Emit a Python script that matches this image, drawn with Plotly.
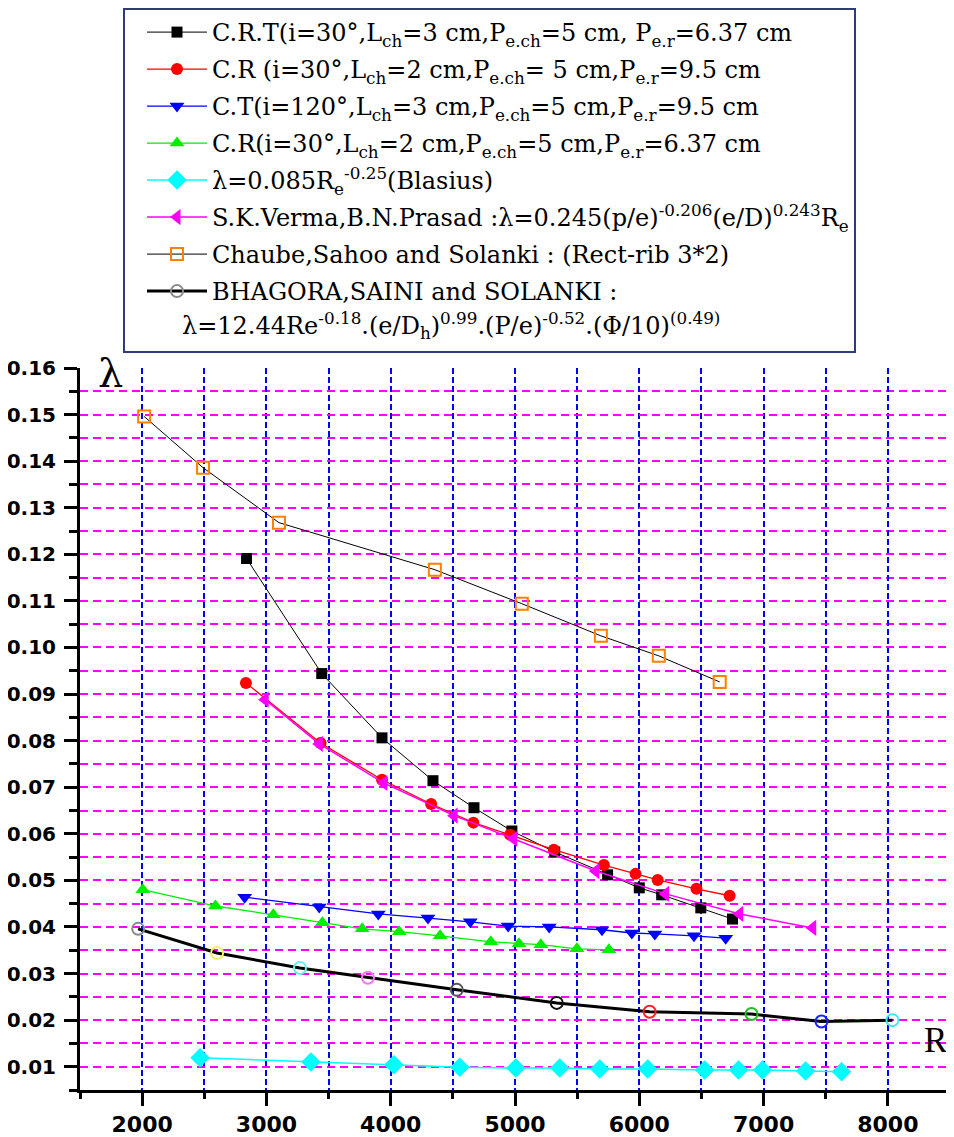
import plotly.graph_objects as go

# ---- data ----
crt_re = [2840, 3445, 3930, 4340, 4670, 4975, 5320, 5745, 6000, 6180, 6495, 6750]
crt_f = [0.1191, 0.0944, 0.0806, 0.0714, 0.0656, 0.0606, 0.0561, 0.0512, 0.0484, 0.0469, 0.0441, 0.0417]

cr_re = [2835, 3435, 3930, 4325, 4665, 4960, 5312, 5715, 5970, 6148, 6460, 6727]
cr_f = [0.0924, 0.0795, 0.0716, 0.0664, 0.0624, 0.0598, 0.0566, 0.0533, 0.0514, 0.0501, 0.0482, 0.0467]

ct_re = [2825, 3425, 3900, 4300, 4640, 4945, 5275, 5700, 5940, 6125, 6440, 6695]
ct_f = [0.0464, 0.0443, 0.0428, 0.0419, 0.0411, 0.0402, 0.0400, 0.0394, 0.0387, 0.0385, 0.0381, 0.0376]

crg_re = [2005, 2590, 3055, 3450, 3770, 4068, 4397, 4805, 5032, 5208, 5498, 5755]
crg_f = [0.0480, 0.0445, 0.0426, 0.0409, 0.0396, 0.0390, 0.0381, 0.0368, 0.0364, 0.0362, 0.0353, 0.0351]

bla_re = [2466, 3358, 4026, 4556, 5006, 5360, 5682, 6068, 6526, 6799, 6992, 7338, 7627]
bla_f = [0.0119, 0.0110, 0.0104, 0.0099, 0.0097, 0.0097, 0.0095, 0.0095, 0.0093, 0.0093, 0.0093, 0.0091, 0.0089]

ver_re = [2990, 3425, 3945, 4510, 4990, 5650, 6212, 6808, 7395]
ver_f = [0.0888, 0.0793, 0.0709, 0.0639, 0.0589, 0.0520, 0.0471, 0.0428, 0.0398]

cha_re = [2016, 2490, 3101, 4355, 5055, 5691, 6157, 6647]
cha_f = [0.1496, 0.1386, 0.1268, 0.1167, 0.1094, 0.1025, 0.0982, 0.0926]

bha_re = [1968, 2603, 3270, 3817, 4532, 5336, 6083, 6903, 7466, 8037]
bha_f = [0.0396, 0.0344, 0.0312, 0.0291, 0.0265, 0.0237, 0.0218, 0.0213, 0.0197, 0.0200]
bha_colors = ['#8a8a8a', '#f2f25a', '#66f0f0', '#f27af2', '#555555',
              '#111111', '#ff2020', '#20c020', '#2020ff', '#40e8f0']

names = [
    "C.R.T(i=30°,L<sub>ch</sub>=3 cm,P<sub>e.ch</sub>=5 cm, P<sub>e.r</sub>=6.37 cm",
    "C.R (i=30°,L<sub>ch</sub>=2 cm,P<sub>e.ch</sub>= 5 cm,P<sub>e.r</sub>=9.5 cm",
    "C.T(i=120°,L<sub>ch</sub>=3 cm,P<sub>e.ch</sub>=5 cm,P<sub>e.r</sub>=9.5 cm",
    "C.R(i=30°,L<sub>ch</sub>=2 cm,P<sub>e.ch</sub>=5 cm,P<sub>e.r</sub>=6.37 cm",
    "λ=0.085R<sub>e</sub><sup>-0.25</sup>(Blasius)",
    "S.K.Verma,B.N.Prasad :λ=0.245(p/e)<sup>-0.206</sup>(e/D)<sup>0.243</sup>R<sub>e</sub>",
    "Chaube,Sahoo and Solanki : (Rect-rib 3*2)",
    "BHAGORA,SAINI and SOLANKI :",
]
formula_line = ("λ=12.44Re<sup>-0.18</sup>.(e/D<sub>h</sub>)<sup>0.99</sup>.(P/e)<sup>-0.52</sup>"
                ".(Φ/10)<sup>(0.49)</sup>")

x_ticks = [2000, 3000, 4000, 5000, 6000, 7000, 8000]
y_ticks = [0.01, 0.02, 0.03, 0.04, 0.05, 0.06, 0.07, 0.08, 0.09, 0.10, 0.11, 0.12, 0.13, 0.14, 0.15, 0.16]
y_ticktext = ["%.2f" % v for v in y_ticks]

fig = go.Figure()

fig.add_trace(go.Scatter(x=crt_re, y=crt_f, name=names[0], mode='lines+markers', legendgroup='g1',
                         line=dict(color='black', width=1),
                         marker=dict(symbol='square', size=11, color='black')))
fig.add_trace(go.Scatter(x=cr_re, y=cr_f, name=names[1], mode='lines+markers', legendgroup='g2',
                         line=dict(color='#ff0000', width=1.3),
                         marker=dict(symbol='circle', size=12, color='#ff0000')))
fig.add_trace(go.Scatter(x=ct_re, y=ct_f, name=names[2], mode='lines+markers', legendgroup='g3',
                         line=dict(color='#0000ff', width=1.3),
                         marker=dict(symbol='triangle-down', size=13, color='#0000ff')))
fig.add_trace(go.Scatter(x=crg_re, y=crg_f, name=names[3], mode='lines+markers', legendgroup='g4',
                         line=dict(color='#00ee00', width=1.3),
                         marker=dict(symbol='triangle-up', size=13, color='#00ee00')))
fig.add_trace(go.Scatter(x=bla_re, y=bla_f, name=names[4], mode='lines+markers', legendgroup='g5',
                         line=dict(color='#00ffff', width=1.5),
                         marker=dict(symbol='diamond', size=15, color='#00ffff')))
fig.add_trace(go.Scatter(x=ver_re, y=ver_f, name=names[5], mode='lines+markers', legendgroup='g6',
                         line=dict(color='#ff00ff', width=1.5),
                         marker=dict(symbol='triangle-left', size=14, color='#ff00ff')))
fig.add_trace(go.Scatter(x=cha_re, y=cha_f, name=names[6], mode='lines+markers', legendgroup='g7',
                         line=dict(color='black', width=1),
                         marker=dict(symbol='square-open', size=12, color='#ff8000',
                                     line=dict(width=2, color='#ff8000'))))
fig.add_trace(go.Scatter(x=bha_re, y=bha_f, name=names[7], mode='lines+markers', legendgroup='g8',
                         line=dict(color='black', width=3),
                         marker=dict(symbol='circle-open', size=12, color=bha_colors,
                                     line=dict(width=2, color=bha_colors))))
# blank legend row reserving room for the second line of the last entry
fig.add_trace(go.Scatter(x=[None], y=[None], name='&nbsp;', mode='lines', legendgroup='g9',
                         line=dict(color='rgba(0,0,0,0)', width=0), hoverinfo='skip'))

grid_x = dict(showgrid=True, gridcolor='#0000ff', gridwidth=2, griddash='6px,3px')
grid_y = dict(showgrid=True, gridcolor='#ff00ff', gridwidth=2, griddash='8px,5px')

fig.update_xaxes(range=[1500, 8500], tickvals=x_ticks, ticks='outside', ticklen=13, tickwidth=3,
                 tickcolor='black', showline=True, linecolor='black', linewidth=3,
                 tickfont=dict(family='DejaVu Sans', size=22, color='black', weight='bold'),
                 ticklabelstandoff=0, zeroline=False,
                 minor=dict(dtick=500, tick0=1500, ticks='outside', ticklen=6, tickwidth=3,
                            tickcolor='black', **grid_x),
                 **grid_x)
fig.update_yaxes(range=[0.005, 0.16], tickvals=y_ticks, ticktext=y_ticktext, ticks='outside',
                 ticklen=13, tickwidth=3, tickcolor='black', showline=True, linecolor='black',
                 linewidth=3, zeroline=False,
                 tickfont=dict(family='DejaVu Sans', size=20, color='black', weight='bold'),
                 ticklabelstandoff=4,
                 minor=dict(dtick=0.005, tick0=0.005, ticks='outside', ticklen=8, tickwidth=3,
                            tickcolor='black', **grid_y),
                 **grid_y)

W, H = 946, 1129
L, R, T, B = 72, 4, 360, 47
pw, ph = W - L - R, H - T - B


def px_x(x):
    return (x - L) / pw


def px_y(y):
    return (H - B - y) / ph


fig.update_layout(
    width=W, height=H,
    margin=dict(l=L, r=R, t=T, b=B, autoexpand=False),
    paper_bgcolor='white', plot_bgcolor='white',
    showlegend=True,
    legend=dict(xref='container', yref='container', x=115 / W, y=1,
                xanchor='left', yanchor='top', bgcolor='white',
                bordercolor='#2e3d78', borderwidth=2,
                font=dict(family='DejaVu Serif', size=24, color='black'),
                itemwidth=60, indentation=17, tracegroupgap=2.8),
    annotations=[
        dict(text='λ', xref='paper', yref='paper', x=px_x(102), y=px_y(365),
             xanchor='center', yanchor='middle',
             showarrow=False, font=dict(family='DejaVu Serif', size=40, color='black')),
        dict(text='R<sub>e</sub>', xref='paper', yref='paper', x=px_x(914),
             y=px_y(1034), xanchor='left', yanchor='middle', showarrow=False,
             font=dict(family='Liberation Serif', size=35, color='black')),
        dict(text=formula_line, xref='paper', yref='paper', x=px_x(172),
             y=px_y(318), xanchor='left', yanchor='middle', showarrow=False,
             font=dict(family='DejaVu Serif', size=24, color='black')),
    ],
)

fig.write_html("out.html")
